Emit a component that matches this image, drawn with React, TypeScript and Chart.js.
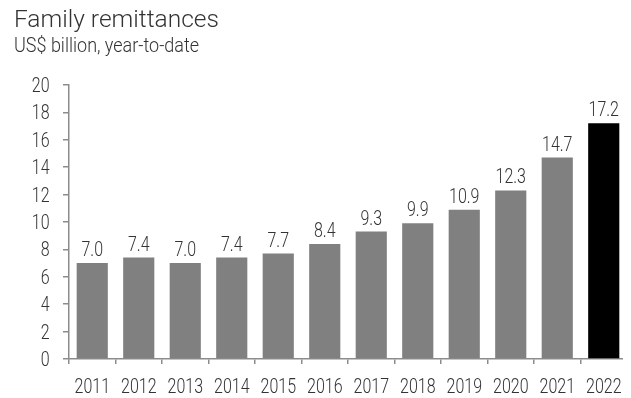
import React, { useEffect, useRef } from "react";
import { Chart, registerables } from "chart.js";

Chart.register(...registerables);

const TITLE = "Family remittances";
const SUBTITLE = "US$ billion, year-to-date";
const YEARS = ["2011", "2012", "2013", "2014", "2015", "2016", "2017", "2018", "2019", "2020", "2021", "2022"];
const VALUES = [7.0, 7.4, 7.0, 7.4, 7.7, 8.4, 9.3, 9.9, 10.9, 12.3, 14.7, 17.2];
const BAR_COLORS = ["#808080", "#808080", "#808080", "#808080", "#808080", "#808080", "#808080", "#808080", "#808080", "#808080", "#808080", "#000000"];

const FONT = "Roboto, 'Liberation Sans', sans-serif";
const TEXT = "#333333";
const AXIS = "#8c8c8c";
const NUM_SIZE = 20;
const NUM_SCALE = 0.8;

function drawText(ctx: any, text: string, x: number, y: number, align: string, size: number, sx: number) {
  ctx.save();
  ctx.font = `300 ${size}px ${FONT}`;
  ctx.fillStyle = TEXT;
  ctx.textAlign = align;
  ctx.textBaseline = "alphabetic";
  ctx.translate(x, y);
  ctx.scale(sx, 1);
  ctx.fillText(text, 0, 0);
  ctx.restore();
}

const textPlugin = {
  id: "texts",
  afterDraw(chart: any) {
    const ctx = chart.ctx;
    drawText(ctx, TITLE, 6, 19, "left", 24.5, 1);
    drawText(ctx, SUBTITLE, 6, 44, "left", 20, 0.9);
    const y = chart.scales.y;
    y.ticks.forEach((t: any) => {
      const py = y.getPixelForValue(t.value);
      drawText(ctx, String(t.value), 41.5, py + 7, "right", NUM_SIZE, NUM_SCALE);
    });
    const x = chart.scales.x;
    YEARS.forEach((lab, i) => {
      drawText(ctx, lab, x.getPixelForValue(i), 385, "center", NUM_SIZE, NUM_SCALE);
    });
    const meta = chart.getDatasetMeta(0);
    meta.data.forEach((bar: any, i: number) => {
      drawText(ctx, VALUES[i].toFixed(1), bar.x, bar.y - 7, "center", NUM_SIZE, NUM_SCALE);
    });
  },
};

export default function App() {
  const ref = useRef<HTMLCanvasElement | null>(null);
  useEffect(() => {
    if (!ref.current) return;
    const chart = new Chart(ref.current, {
      type: "bar",
      data: {
        labels: YEARS,
        datasets: [
          {
            data: VALUES,
            backgroundColor: BAR_COLORS,
            barPercentage: 0.67,
            categoryPercentage: 1,
          },
        ],
      },
      options: {
        responsive: false,
        animation: false,
        layout: { padding: { top: 77, right: 4, left: 0, bottom: 0 } },
        plugins: {
          legend: { display: false },
          tooltip: { enabled: false },
          title: { display: false },
        },
        scales: {
          x: {
            grid: {
              display: true,
              drawOnChartArea: false,
              drawTicks: true,
              tickLength: 5,
              color: AXIS,
              lineWidth: 1.5,
              offset: true,
            },
            border: { display: true, color: AXIS, width: 1.5 },
            ticks: { display: false },
            afterFit(scale: any) {
              scale.height = 39;
            },
          },
          y: {
            min: 0,
            max: 20,
            grid: {
              display: true,
              drawOnChartArea: false,
              drawTicks: true,
              tickLength: 6,
              color: AXIS,
              lineWidth: 1.5,
            },
            border: { display: true, color: AXIS, width: 1.5 },
            ticks: { stepSize: 2, display: false },
            afterFit(scale: any) {
              scale.width = 61;
            },
          },
        },
      },
      plugins: [textPlugin],
    });
    return () => chart.destroy();
  }, []);
  return (
    <canvas
      ref={ref}
      width={623}
      height={390}
      style={{ display: "block", width: 623, height: 390 }}
    />
  );
}
